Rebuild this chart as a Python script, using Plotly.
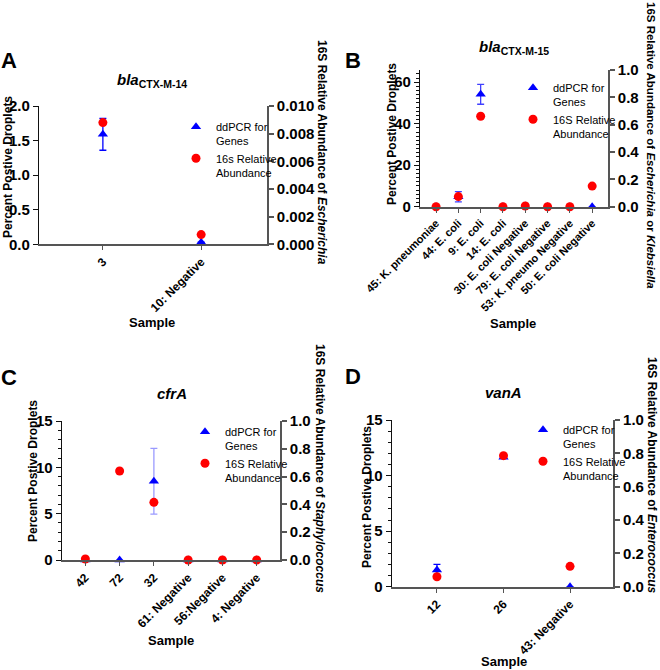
import plotly.graph_objects as go

FONT = "Liberation Sans, Arial, sans-serif"
W, H = 660, 670

# ---------------- data ----------------
a_samples = ["3", "10: Negative"]
a_ddpcr = [1.59, 0.03]
a_ddpcr_err = [0.23, None]
a_16s = [0.0088, 0.0007]

b_samples = ["45: K. pneumoniae", "44: E. coli", "9: E. coli", "14: E. coli",
             "30: E. coli Negative", "79: E. coli Negative",
             "53: K. pneumo Negative", "50: E. coli Negative"]
b_ddpcr = [0.0, 4.8, 54.2, 0.0, 0.3, 0.0, 0.0, 0.0]
b_ddpcr_err = [None, 2.5, 4.8, None, None, None, None, None]
b_16s = [0.0, 0.074, 0.662, 0.0, 0.005, 0.0, 0.0, 0.151]

c_samples = ["42", "72", "32", "61: Negative", "56:Negative", "4: Negative"]
c_ddpcr = [0.0, 0.0, 8.5, 0.0, 0.0, 0.0]
c_ddpcr_err = [None, None, 3.55, None, None, None]
c_16s = [0.007, 0.64, 0.415, 0.0, 0.0, 0.0]

d_samples = ["12", "26", "43: Negative"]
d_ddpcr = [1.5, 11.65, 0.0]
d_ddpcr_err = [0.5, None, None]
d_16s = [0.06, 0.786, 0.122]

legend_ddpcr = "ddPCR for<br>Genes"
legend_16s_a = "16s Relative<br>Abundance"
legend_16s = "16S Relative<br>Abundance"


def px_x(p):
    return p / W


def px_y(p):
    return 1 - p / H


panels = [
    dict(samples=a_samples, dd=a_ddpcr, err=a_ddpcr_err, s16=a_16s,
         xdom=(39, 267), ydom=(106, 244.3), xr=[-0.65, 1.67], yl=[0, 2.0], yld=0.5, ylfmt=".1f",
         ylminor=None, yr=[0, 0.010], yrd=0.002, yrfmt=".3f", errcol="rgb(0,0,255)",
         leg16=legend_16s_a, legpos=(176, 113), xtick=12),
    dict(samples=b_samples, dd=b_ddpcr, err=b_ddpcr_err, s16=b_16s,
         xdom=(420, 608), ydom=(70, 206.7), xr=[-0.72, 7.71], yl=[0, 65.9], yld=20, ylfmt="d",
         ylminor=2, yr=[0, 1.0], yrd=0.2, yrfmt=".1f", errcol="rgba(0,0,255,0.75)",
         leg16=legend_16s, legpos=(513, 74), xtick=11),
    dict(samples=c_samples, dd=c_ddpcr, err=c_ddpcr_err, s16=c_16s,
         xdom=(61.7, 280), ydom=(421, 560), xr=[-0.69, 5.68], yl=[0, 15], yld=5, ylfmt="d",
         ylminor=1, yr=[0, 1.0], yrd=0.2, yrfmt=".1f", errcol="rgba(0,0,255,0.4)",
         leg16=legend_16s, legpos=(185, 418), xtick=12),
    dict(samples=d_samples, dd=d_ddpcr, err=d_ddpcr_err, s16=d_16s,
         xdom=(391.7, 613.3), ydom=(420, 586.7), xr=[-0.68, 2.65], yl=[0, 15], yld=5, ylfmt="d",
         ylminor=1, yr=[0, 1.0], yrd=0.2, yrfmt=".1f", errcol="rgb(0,0,255)",
         leg16=legend_16s, legpos=(523, 416), xtick=12),
]

fig = go.Figure()
layout = dict(
    width=W, height=H, margin=dict(l=0, r=0, t=0, b=0, autoexpand=False),
    paper_bgcolor="white", plot_bgcolor="white",
    font=dict(family=FONT, color="black"),
    showlegend=True,
)

for i, p in enumerate(panels, start=1):
    xa = "x" if i == 1 else f"x{i}"
    yl = "y" if i == 1 else f"y{i}"
    yr = f"y{i + 4}"
    leg = "legend" if i == 1 else f"legend{i}"
    has_err = any(e is not None for e in p["err"])
    fig.add_trace(go.Scatter(
        x=p["samples"], y=p["dd"], mode="markers", name=legend_ddpcr,
        xaxis=xa, yaxis=yl, legend=leg, cliponaxis=False,
        marker=dict(symbol="triangle-up", size=9, color="rgb(0,0,255)"),
        error_y=dict(type="data", array=p["err"], visible=has_err,
                     color=p["errcol"], thickness=1.3, width=3.5),
    ))
    fig.add_trace(go.Scatter(
        x=p["samples"], y=p["s16"], mode="markers", name=p["leg16"],
        xaxis=xa, yaxis=yr, legend=leg, cliponaxis=False,
        marker=dict(symbol="circle", size=9, color="rgb(255,0,0)"),
    ))

    xk = "xaxis" if i == 1 else f"xaxis{i}"
    ylk = "yaxis" if i == 1 else f"yaxis{i}"
    yrk = f"yaxis{i + 4}"
    layout[xk] = dict(
        domain=[px_x(p["xdom"][0]), px_x(p["xdom"][1])], anchor=yl,
        type="category", categoryorder="array", categoryarray=p["samples"],
        range=p["xr"], tickangle=-45, showgrid=False, zeroline=False,
        showline=True, linecolor="#555", linewidth=1.6,
        ticks="outside", ticklen=4, tickcolor="#555", tickwidth=1,
        tickfont=dict(family=FONT, size=p["xtick"], color="black", weight="bold"),
        automargin=False,
    )
    ydict = dict(
        domain=[px_y(p["ydom"][1]), px_y(p["ydom"][0])], anchor=xa,
        range=p["yl"], dtick=p["yld"], tick0=0, tickformat=p["ylfmt"],
        showgrid=False, zeroline=False, showline=True, linecolor="#111", linewidth=1.2,
        ticks="outside", ticklen=5, tickcolor="#111", tickwidth=1.2,
        tickfont=dict(family=FONT, size=15, color="black", weight="bold"),
        automargin=False,
    )
    if p["ylminor"]:
        ydict["minor"] = dict(dtick=p["ylminor"], ticks="outside", ticklen=3,
                              tickcolor="#111", tickwidth=1, showgrid=False)
    layout[ylk] = ydict
    layout[yrk] = dict(
        overlaying=yl, side="right", anchor=xa,
        range=p["yr"], dtick=p["yrd"], tick0=0, tickformat=p["yrfmt"],
        showgrid=False, zeroline=False, showline=True, linecolor="#555", linewidth=1.6,
        ticks="outside", ticklen=5, tickcolor="#555", tickwidth=1.6,
        tickfont=dict(family=FONT, size=15, color="black", weight="bold"),
        automargin=False,
    )
    layout[leg] = dict(
        x=px_x(p["legpos"][0]), y=px_y(p["legpos"][1]), xanchor="left", yanchor="top",
        bgcolor="rgba(0,0,0,0)", font=dict(family=FONT, size=11, color="black"),
        valign="top", tracegroupgap=2, itemwidth=30,
    )

fig.update_layout(**layout)


def ann(text, x, y, size, angle=0, **kw):
    fig.add_annotation(text=text, x=px_x(x), y=px_y(y), xref="paper", yref="paper",
                       showarrow=False, textangle=angle, xanchor="center", yanchor="middle",
                       font=dict(family=FONT, size=size, color="black"), **kw)


# panel letters
for letter, (lx, ly) in zip("ABCD", [(9, 60), (353, 60), (9, 377), (353, 376)]):
    ann(f"<b>{letter}</b>", lx, ly, 22)

# panel titles
ann("<b><i>bla</i><sub>CTX-M-14</sub></b>", 152, 80, 15)
ann("<b><i>bla</i><sub>CTX-M-15</sub></b>", 514, 47, 15)
ann("<b><i>cfrA</i></b>", 172, 393, 15)
ann("<b><i>vanA</i></b>", 503, 392, 15)

# left axis titles
left_title = "<b>Percent Postive Droplets</b>"
ann(left_title, 8, 167, 12, -90)
ann(left_title, 392, 134, 12, -90)
ann(left_title, 33, 471, 12, -90)
ann(left_title, 367, 497, 12, -90)

# right axis titles
ann("<b>16S Relative Abundance of <i>Escherichia</i></b>", 322, 152, 12, 90)
ann("<b>16S Relative Abundance of <i>Escherichia</i> or <i>Klebsiella</i></b>", 651, 145, 11.5, 90)
ann("<b>16S Relative Abundance of <i>Staphylococcus</i></b>", 320, 468, 12, 90)
ann("<b>16S Relative Abundance of <i>Enterococcus</i></b>", 652, 475, 12, 90)

# x axis titles
for sx, sy in [(152, 322), (513, 323), (171, 640), (504, 661)]:
    ann("<b>Sample</b>", sx, sy, 13)

fig.write_html(
    "out.html",
    config={"displayModeBar": False},
    post_script="document.body.style.margin='0';document.body.style.overflow='hidden';",
)
